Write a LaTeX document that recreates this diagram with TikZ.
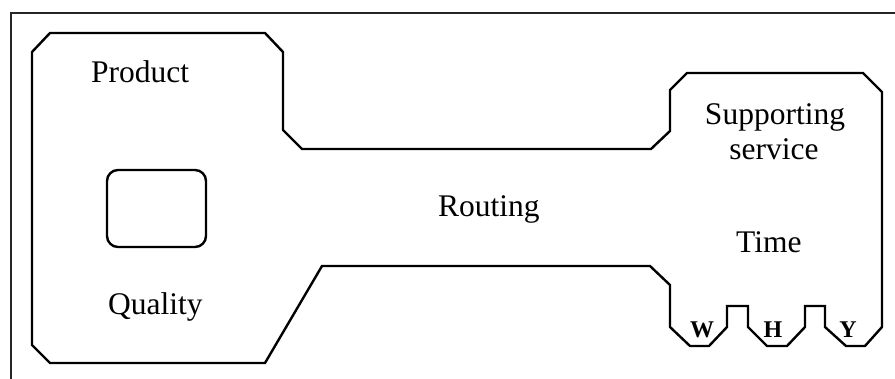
\documentclass[tikz,border=0pt]{standalone}
\usepackage{fontspec}
\setmainfont{Liberation Serif}
\begin{document}
\begin{tikzpicture}[x=1pt,y=-1pt,
  outline/.style={draw=black,line width=2.4pt,line join=miter},
  frameline/.style={draw=black!85,line width=2.2pt},
  lbl/.style={anchor=base west,inner sep=0pt,font=\fontsize{31.5}{36}\selectfont},
  clbl/.style={anchor=base,inner sep=0pt,font=\fontsize{31.5}{36}\selectfont},
  toothlbl/.style={anchor=base,inner sep=0pt,font=\bfseries\fontsize{24}{26}\selectfont}]
  \useasboundingbox (0,0) rectangle (895,379);
  % open frame: top and left sides
  \draw[frameline] (11,379) -- (11,13) -- (895,13);
  % key outline: bow, shaft and bit with its three teeth
  \draw[outline]
    (32,52) -- (50,33) -- (265,33) -- (283,52) -- (283,130) -- (302,149)
    -- (651,149) -- (670,131) -- (670,90) -- (687,73) -- (863,73) -- (882,92)
    -- (882,327) -- (865,346) -- (846,346) -- (825,327) -- (825,306)
    -- (805,306) -- (805,327) -- (787,346) -- (767,346) -- (748,327)
    -- (748,306) -- (727,306) -- (727,327) -- (709,346) -- (690,346)
    -- (670,327) -- (670,285) -- (650,266) -- (322,266) -- (265,363)
    -- (50,363) -- (32,345) -- cycle;
  % hole in the bow
  \draw[outline,rounded corners=11pt] (107,170) rectangle (206,247);
  % labels
  \node[lbl] (product) at (91,83) {Product};
  \node[lbl] (quality) at (108,315) {Quality};
  \node[lbl] (routing) at (438,217) {Routing};
  \node[clbl] (supporting) at (775,125) {Supporting};
  \node[clbl] (service) at (774,160) {service};
  \node[lbl] (time) at (736,253) {Time};
  \node[toothlbl] (w) at (702,338) {W};
  \node[toothlbl] (h) at (773,338) {H};
  \node[toothlbl] (y) at (848,338) {Y};
\end{tikzpicture}
\end{document}
